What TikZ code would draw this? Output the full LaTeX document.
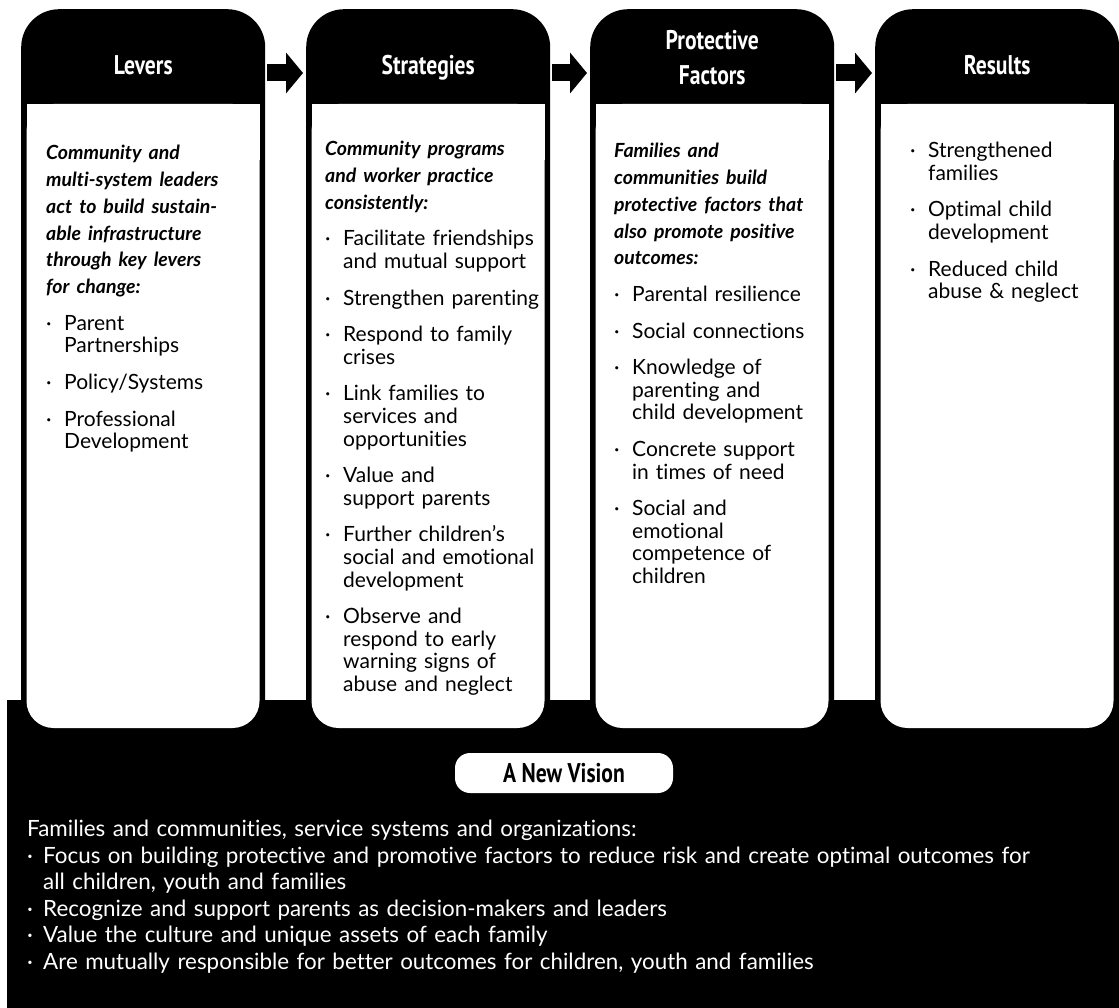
\documentclass[tikz,border=0pt]{standalone}
\usepackage{fontspec}
\setmainfont{Lato}[Ligatures=NoCommon]
\newfontfamily\headfont[FakeStretch=0.8]{PT Sans}
\usetikzlibrary{arrows.meta,positioning}
\tikzset{
  x=1pt,y=-1pt,
}
\tikzstyle{card}=[fill=black,rounded corners=38pt,minimum width=244pt,minimum height=740pt,anchor=north west,inner sep=0pt]
\tikzstyle{head}=[white,font=\headfont\bfseries\fontsize{27}{35}\selectfont,align=center]
\tikzstyle{body}=[anchor=north west,inner sep=0pt,text width=250pt,font=\fontsize{21}{22.6}\selectfont]
\tikzstyle{flow}=[line width=17pt,-{Triangle[length=17pt,width=40pt]}]
\tikzstyle{pill}=[fill=white,rounded corners=15pt,minimum width=218pt,minimum height=40pt,font=\headfont\bfseries\fontsize{27}{30}\selectfont]
\newcommand\lead[1]{\noindent{\let\\\newline\bfseries\itshape\fontsize{19.5}{26.8}\selectfont #1\par}}
\newcommand\pnt[1]{\par\vspace{14pt}\hangindent=18pt\hangafter=1\noindent\makebox[18pt][l]{·}{\let\\\newline#1}\par}
\newcommand\vpnt[1]{\hangindent=16pt\hangafter=1\noindent\makebox[16pt][l]{·}{\let\\\newline#1}\par}

\begin{document}
\begin{tikzpicture}
\useasboundingbox (0,0) rectangle (1119,1008);
\fill (7,700) rectangle (1119,1008);
\foreach \x/\n in {21/lev,306/str,590/pro,875/res}{
  \node[card] (\n) at (\x,9) {};
  \fill[white,rounded corners=27pt] (\x+5.5,104) rectangle (\x+238.5,728);
  \fill[white] (\x+5.5,104) rectangle (\x+238.5,160);
}
\node[head,anchor=base] (levt) at ([yshift=-66pt]lev.north) {Levers};
\node[head,anchor=base] (strt) at ([yshift=-66pt]str.north) {Strategies};
\node[head] (prot) at ([yshift=-49pt]pro.north) {Protective\\Factors};
\node[head,anchor=base] (rest) at ([yshift=-66pt]res.north) {Results};
\draw[flow] ([xshift=2pt,yshift=-64pt]lev.north east) -- ([xshift=-3pt,yshift=-64pt]str.north west);
\draw[flow] ([xshift=2pt,yshift=-64pt]str.north east) -- ([xshift=-3pt,yshift=-64pt]pro.north west);
\draw[flow] ([xshift=2pt,yshift=-64pt]pro.north east) -- ([xshift=-3pt,yshift=-64pt]res.north west);

\node[body] (levb) at ([xshift=25pt,yshift=-136pt]lev.north west) {
  \lead{Community and\\multi-system leaders\\act to build sustain-\\able infrastructure\\through key levers\\for change:}
  \pnt{Parent\\Partnerships}
  \pnt{Policy/Systems}
  \pnt{Professional\\Development}};
\node[body] (strb) at ([xshift=19pt,yshift=-132pt]str.north west) {
  \lead{Community programs\\and worker practice\\consistently:}
  \pnt{Facilitate friendships\\and mutual support}
  \pnt{Strengthen parenting}
  \pnt{Respond to family\\crises}
  \pnt{Link families to\\services and\\opportunities}
  \pnt{Value and\\support parents}
  \pnt{Further children’s\\social and emotional\\development}
  \pnt{Observe and\\respond to early\\warning signs of\\abuse and neglect}};
\node[body] (prob) at ([xshift=24pt,yshift=-134pt]pro.north west) {
  \lead{Families and\\communities build\\protective factors that\\also promote positive\\outcomes:}
  \pnt{Parental resilience}
  \pnt{Social connections}
  \pnt{Knowledge of\\parenting and\\child development}
  \pnt{Concrete support\\in times of need}
  \pnt{Social and\\emotional\\competence of\\children}};
\node[body] (resb) at ([xshift=35pt,yshift=-112pt]res.north west) {
  \pnt{Strengthened\\families}
  \pnt{Optimal child\\development}
  \pnt{Reduced child\\abuse \& neglect}};

\node[pill] (vision) at (564,773) {A New Vision};
\node[anchor=north west,inner sep=0pt,text=white,text width=1080pt,font=\fontsize{22.4}{26.5}\selectfont] (visionb) at (27,820) {
  \noindent Families and communities, service systems and organizations:\par
  \vpnt{Focus on building protective and promotive factors to reduce risk and create optimal outcomes for\\all children, youth and families}
  \vpnt{Recognize and support parents as decision-makers and leaders}
  \vpnt{Value the culture and unique assets of each family}
  \vpnt{Are mutually responsible for better outcomes for children, youth and families}};
\end{tikzpicture}
\end{document}
